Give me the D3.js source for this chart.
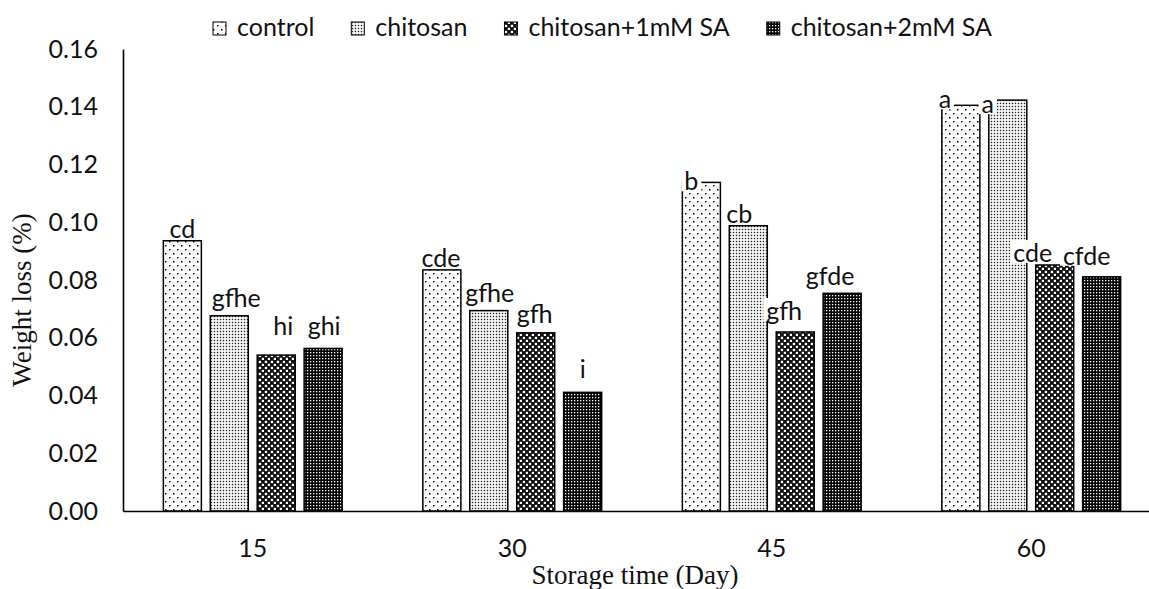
<!DOCTYPE html>
<html>
<head>
<meta charset="utf-8">
<script src="https://cdn.jsdelivr.net/npm/d3@7"></script>
<style>
  body { margin: 0; background: #fff; }
  svg { display: block; }
</style>
</head>
<body>
<div id="chart"></div>
<script>
// data
const days = ["15", "30", "45", "60"];
const seriesNames = ["control", "chitosan", "chitosan+1mM SA", "chitosan+2mM SA"];
const control = [0.0936, 0.0835, 0.1138, 0.1405];
const chitosan = [0.0676, 0.0694, 0.0988, 0.1423];
const sa1 = [0.0540, 0.0617, 0.0620, 0.0852];
const sa2 = [0.0563, 0.0411, 0.0754, 0.0811];
const lettersControl = ["cd", "cde", "b", "a"];
const lettersChitosan = ["gfhe", "gfhe", "cb", "a"];
const lettersSa1 = ["hi", "gfh", "gfh", "cde"];
const lettersSa2 = ["ghi", "i", "gfde", "cfde"];
const yTicks = [0, 0.02, 0.04, 0.06, 0.08, 0.10, 0.12, 0.14, 0.16];

const values = [control, chitosan, sa1, sa2];
const letters = [lettersControl, lettersChitosan, lettersSa1, lettersSa2];

// label placement (dx from bar centre, gap above bar top), like the excel labels
const labelNudge = [
  [[0, 3], [-1, 3], [-10, -8], [-16, -3]],
  [[7, 9], [1, 9], [-9, 3], [-20, -13]],
  [[7, 20], [-1, 9.5], [-11, 12], [-22, 3]],
  [[1, 13], [0, 14], [-12, 8], [-15, 12]]
];

const W = 1149, H = 589;
const sans = "Lato, 'Open Sans', sans-serif";
const serif = "'Liberation Serif', 'DejaVu Serif', serif";

const svg = d3.select("#chart").append("svg")
    .attr("width", W)
    .attr("height", H);

// fill patterns
const defs = svg.append("defs");
function addPattern(id, size, bg, fg, dots, r) {
  const p = defs.append("pattern")
      .attr("id", id)
      .attr("patternUnits", "userSpaceOnUse")
      .attr("width", size)
      .attr("height", size);
  p.append("rect").attr("width", size).attr("height", size).attr("fill", bg);
  dots.forEach(d => {
    p.append("rect")
        .attr("x", d[0]).attr("y", d[1])
        .attr("width", r).attr("height", r)
        .attr("fill", fg);
  });
}
addPattern("pat0", 8, "#fff", "#000", [[1, 1], [5, 5]], 1.5);
addPattern("pat1", 3, "#fff", "#222", [[0.8, 0.8]], 1.4);
addPattern("pat2", 6, "#111", "#fff", [[0.8, 0.8], [3.8, 3.8]], 2.3);
addPattern("pat3", 3, "#000", "#fff", [[1, 1]], 1.3);

// scales
const x0 = d3.scaleBand().domain(days).range([123, 1161]).padding(0);
const x1 = d3.scaleBand().domain(d3.range(seriesNames.length))
    .range([0, x0.bandwidth()])
    .paddingInner(0.19)
    .paddingOuter(0.86);
const y = d3.scaleLinear().domain([0, 0.16]).range([511, 49]);

// bars
const cells = [];
values.forEach((arr, s) => arr.forEach((v, i) => cells.push({s, i, v, day: days[i]})));

svg.append("g").selectAll("rect")
    .data(cells)
    .enter().append("rect")
    .attr("x", d => x0(d.day) + x1(d.s))
    .attr("y", d => y(d.v))
    .attr("width", x1.bandwidth())
    .attr("height", d => y(0) - y(d.v))
    .attr("fill", d => "url(#pat" + d.s + ")")
    .attr("stroke", "#000")
    .attr("stroke-width", 1.5);

// y axis
const yAxis = svg.append("g")
    .attr("transform", "translate(123,0)")
    .call(d3.axisLeft(y).tickValues(yTicks).tickFormat(d3.format(".2f")).tickSize(0).tickPadding(25));
yAxis.select(".domain").attr("stroke", "#000").attr("stroke-width", 1.6);
yAxis.selectAll("text").attr("font-family", sans).attr("font-size", 25).attr("fill", "#111");

// x axis
const xAxis = svg.append("g")
    .attr("transform", "translate(0,511)")
    .call(d3.axisBottom(x0).tickSize(0).tickSizeOuter(0).tickPadding(28));
xAxis.select(".domain").attr("stroke", "#000").attr("stroke-width", 1.6);
xAxis.selectAll("text").attr("font-family", sans).attr("font-size", 25).attr("fill", "#111");

// letters over bars, with white boxes like the text boxes in the original
const labG = svg.append("g");
cells.forEach(d => {
  const nud = labelNudge[d.s][d.i];
  const cx = x0(d.day) + x1(d.s) + x1.bandwidth() / 2 + nud[0];
  const by = y(d.v) - nud[1];
  const g = labG.append("g");
  const box = g.append("rect").attr("fill", "#fff");
  const t = g.append("text")
      .attr("x", cx)
      .attr("y", by)
      .attr("text-anchor", "middle")
      .attr("font-family", sans)
      .attr("font-size", 25)
      .attr("fill", "#111")
      .text(letters[d.s][d.i]);
  const bb = t.node().getBBox();
  box.attr("x", bb.x - 3).attr("y", bb.y + 3)
     .attr("width", bb.width + 6).attr("height", by + 1 - (bb.y + 3));
});

// legend
const leg = svg.append("g");
let lx = 213;
seriesNames.forEach((name, s) => {
  leg.append("rect")
      .attr("x", lx).attr("y", 22)
      .attr("width", 13).attr("height", 13)
      .attr("fill", "url(#pat" + s + ")")
      .attr("stroke", "#000")
      .attr("stroke-width", 1);
  const t = leg.append("text")
      .attr("x", lx + 24)
      .attr("y", 36)
      .attr("font-family", sans)
      .attr("font-size", 25)
      .attr("fill", "#111")
      .text(name);
  lx += 24 + t.node().getComputedTextLength() + 37;
});

// axis titles
svg.append("text")
    .attr("transform", "translate(31,300) rotate(-90)")
    .attr("text-anchor", "middle")
    .attr("font-family", serif)
    .attr("font-size", 27)
    .attr("fill", "#111")
    .text("Weight loss (%)");

svg.append("text")
    .attr("x", 635)
    .attr("y", 584)
    .attr("text-anchor", "middle")
    .attr("font-family", serif)
    .attr("font-size", 27)
    .attr("fill", "#111")
    .text("Storage time (Day)");
</script>
</body>
</html>
